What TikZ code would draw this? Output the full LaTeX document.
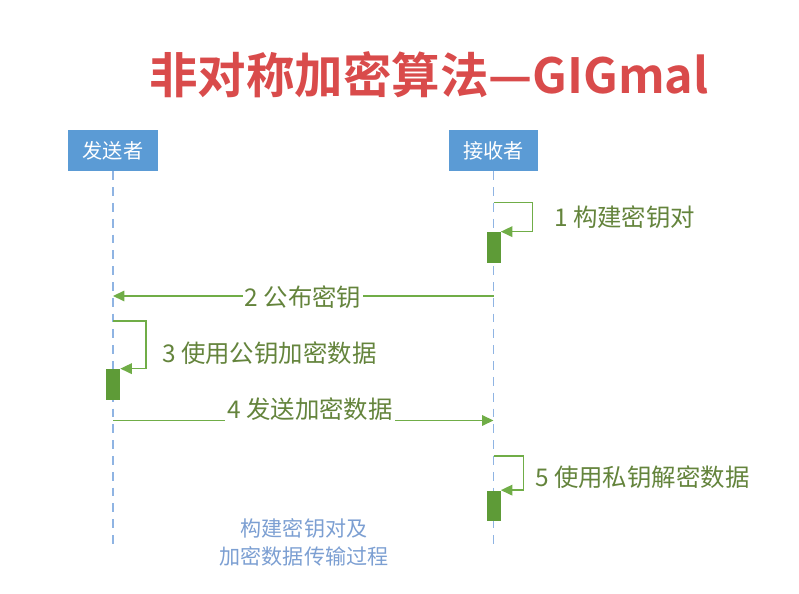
\documentclass[tikz,border=0pt]{standalone}
\usepackage{fontspec}
\newfontfamily\cjk{Noto Sans CJK SC}[BoldFont={Noto Sans CJK SC Bold}]
\usetikzlibrary{arrows.meta}
\definecolor{titlered}{HTML}{D94B4B}
\definecolor{actorblue}{HTML}{5B9BD5}
\definecolor{lifeblue}{HTML}{8FB4E3}
\definecolor{msggreen}{HTML}{70AD47}
\definecolor{actgreen}{HTML}{5E9B37}
\definecolor{lblgreen}{HTML}{64843C}
\definecolor{notblue}{HTML}{7C9FD2}
\begin{document}
\begin{tikzpicture}[x=0.02cm,y=-0.02cm]
		\tikzstyle{every node}=[font=\cjk\fontsize{13.9pt}{16pt}\selectfont]
		\tikzstyle{actor}=[fill=actorblue, text=white, minimum width=1.8cm, minimum height=0.82cm, inner sep=0pt, font=\cjk\fontsize{11.5pt}{14pt}\selectfont]
		\tikzstyle{lifeline}=[draw=lifeblue, line width=0.8pt, dash pattern=on 5pt off 4pt]
		\tikzstyle{msg}=[draw=msggreen, line width=0.8pt, -{Triangle[length=6.5pt,width=6pt]}]
		\tikzstyle{actbox}=[fill=actgreen, minimum width=0.28cm, minimum height=0.62cm, inner sep=0pt]
		\tikzstyle{lbl}=[text=lblgreen, fill=white, inner xsep=1pt, inner ysep=2pt]
		
		\useasboundingbox (0,0) rectangle (799,594);
		
		% title
		\node[text=titlered, font=\cjk\bfseries\fontsize{27.6pt}{31pt}\selectfont] (title) at (429,75) {非对称加密算法—GIGmal};
		
		% actors and lifelines
		\node[actor] (sender) at (113,150.5) {发送者};
		\node[actor] (receiver) at (493.5,150.5) {接收者};
		\coordinate (sender end) at (113,545);
		\coordinate (receiver end) at (493.5,545);
		\draw[lifeline] (sender.south) -- (sender end);
		\draw[lifeline] (receiver.south) -- (receiver end);
		
		% 1 self message on receiver
		\coordinate (m1) at (493.5,202.5);
		\node[actbox] (act1) at (493.5,247.5) {};
		\draw[msg] (m1) -- ++(39,0) |- (act1.north east);
		\node[lbl, anchor=west] (l1) at (552,217) {1 构建密钥对};
		
		% 2 receiver to sender
		\coordinate (m2 from) at (493.5,296);
		\coordinate (m2 to) at (113,296);
		\draw[msg] (m2 from) -- (m2 to);
		\node[lbl] (l2) at (303,297) {2 公布密钥};
		
		% 3 self message on sender
		\coordinate (m3) at (113,321);
		\node[actbox] (act3) at (113,384.5) {};
		\draw[msg] (m3) -- ++(33,0) |- (act3.north east);
		\node[lbl, anchor=west] (l3) at (160,353) {3 使用公钥加密数据};
		
		% 4 sender to receiver
		\coordinate (m4 from) at (113,420.5);
		\coordinate (m4 to) at (493.5,420.5);
		\draw[msg] (m4 from) -- (m4 to);
		\node[lbl] (l4) at (310,409) {4 发送加密数据};
		
		% 5 self message on receiver
		\coordinate (m5) at (493.5,456);
		\node[actbox] (act5) at (493.5,506) {};
		\draw[msg] (m5) -- ++(30,0) |- (act5.north east);
		\node[lbl, anchor=west] (l5) at (533,477) {5 使用私钥解密数据};
		
		% note
		\node[text=notblue, align=center, font=\cjk\fontsize{12pt}{16pt}\selectfont] (note) at (304,542) {构建密钥对及\\加密数据传输过程};
		
	\end{tikzpicture}
\end{document}
